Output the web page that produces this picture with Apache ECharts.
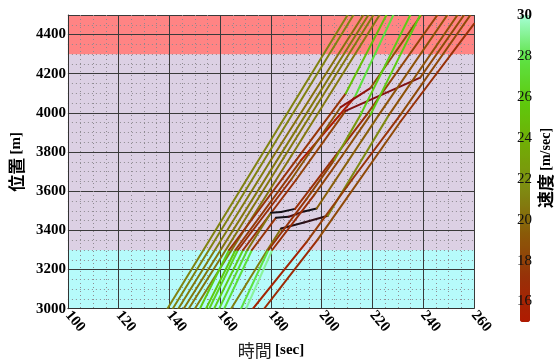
<!DOCTYPE html>
<html>
<head>
<meta charset="utf-8">
<script src="https://cdn.jsdelivr.net/npm/echarts@6/dist/echarts.min.js"></script>
<style>
  html, body { margin: 0; padding: 0; background: #fff; }
  #main { width: 554px; height: 364px; }
</style>
</head>
<body>
<div id="main"></div>
<script>
// vehicle trajectories, [time (sec), position (m)]
var veh01 = [[139.2, 3000], [210.2, 4500]];
var veh02 = [[141.3, 3000], [212.5, 4500]];
var veh03 = [[143.5, 3000], [180, 3760], [216.4, 4500]];
var veh04 = [[145.6, 3000], [182, 3750], [218.4, 4500]];
var veh05 = [[147.6, 3000], [185, 3770], [220.4, 4500]];
var veh06 = [[150.0, 3000], [164, 3290], [188, 3780], [222.8, 4500]];
var veh07 = [[152.0, 3000], [163.5, 3300], [190, 3760], [209.5, 4100], [225.5, 4500]];
var veh08 = [[154.4, 3000], [166, 3300], [192, 3760], [213, 4080], [228.2, 4500]];
var veh09 = [[155.7, 3000], [167, 3300], [188, 3660], [207.5, 4030], [219.2, 4127], [239.2, 4500]];
var veh10 = [[157.6, 3000], [169, 3300], [190, 3660], [209.4, 4010], [238.8, 4180], [256.1, 4500]];
var veh11 = [[159.6, 3000], [170.7, 3300], [180, 3490], [184, 3494], [189.5, 3510], [217.7, 3990], [245.6, 4500]];
var veh12 = [[161.6, 3000], [172.5, 3300], [182, 3465], [187, 3470], [193, 3497], [198, 3512], [222.5, 3990], [249.5, 4500]];
var veh13 = [[164.3, 3000], [178.6, 3300], [184, 3410], [193, 3440], [202.4, 3475], [226.5, 3990], [253.5, 4500]];
var veh14 = [[168.2, 3000], [179, 3300], [194, 3560], [205, 3760], [215.3, 3990], [234.9, 4500]];
var veh15 = [[170.2, 3000], [180.5, 3300], [197, 3580], [208, 3780], [219.2, 3990], [238.8, 4500]];
var veh16 = [[172.9, 3000], [194, 3340], [212, 3660], [231, 3990], [258.6, 4500]];
var veh17 = [[177.3, 3000], [198.4, 3353], [231, 3955], [260, 4455]];
var vehicles = [veh01, veh02, veh03, veh04, veh05, veh06, veh07, veh08, veh09,
  veh10, veh11, veh12, veh13, veh14, veh15, veh16, veh17];

// road sections shown as background bands (m)
var zoneBounds = [3000, 3300, 4300, 4500];
var speedTicks = [16, 18, 20, 22, 24, 26, 28, 30];

var speedColors = ['#b01a00', '#983008', '#8a5a08', '#7f8a12', '#72ab06', '#5ec90c', '#5ee244', '#a6ffd6'];
var zoneColors = ['#b6fbfb', '#dcd0e4', '#ff8484'];

function hex(c) {
  return [parseInt(c.substr(1, 2), 16), parseInt(c.substr(3, 2), 16), parseInt(c.substr(5, 2), 16)];
}
function mix(c1, c2, k) {
  k = Math.max(0, Math.min(1, k));
  var a = hex(c1), b = hex(c2);
  return 'rgb(' + a.map(function (v, i) { return Math.round(v + (b[i] - v) * k); }).join(',') + ')';
}
// below the colour bar: dark red, then black when nearly stopped
function slowColor(v) {
  if (v >= 6) return mix('#a01806', '#8a1010', (15 - v) / 9);
  return mix('#8a1010', '#141018', (6 - v) / 3);
}

var segs = [];
vehicles.forEach(function (veh) {
  for (var i = 0; i < veh.length - 1; i++) {
    var p = veh[i], q = veh[i + 1];
    segs.push([p[0], p[1], q[0], q[1], (q[1] - p[1]) / (q[0] - p[0])]);
  }
});

var serifBold = { fontFamily: 'Liberation Serif', fontWeight: 'bold', color: '#000' };
var minorLine = { show: true, lineStyle: { color: '#8e8a90', type: [1, 3], width: 1 } };

var myChart = echarts.init(document.getElementById('main'));
var option = {
  animation: false,
  grid: [
    { left: 66, right: 80, top: 15, bottom: 42 },
    { left: 520, width: 10, top: 15, height: 307 }
  ],
  xAxis: [{
    type: 'value', min: 100, max: 260, interval: 20, z: 3,
    name: '{a|時間} {b|[sec]}', nameLocation: 'middle', nameGap: 32,
    nameTextStyle: {
      rich: {
        a: { fontFamily: 'Noto Sans CJK JP', fontSize: 17, color: '#222' },
        b: { fontFamily: 'Liberation Serif', fontWeight: 'bold', fontSize: 15, color: '#000' }
      }
    },
    axisLine: { show: true, onZero: false, lineStyle: { color: '#333' } },
    axisTick: { show: false },
    axisLabel: Object.assign({ fontSize: 15, rotate: -50, margin: 4 }, serifBold),
    splitLine: { show: true, lineStyle: { color: '#3a3a3a', width: 1 } },
    minorTick: { show: true, splitNumber: 4, length: 0 },
    minorSplitLine: minorLine
  }, {
    gridIndex: 1, type: 'value', show: false
  }],
  yAxis: [{
    type: 'value', min: 3000, max: 4500, interval: 200, z: 3,
    name: '{a|位置} {b|[m]}', nameLocation: 'middle', nameGap: 37, nameRotate: 90,
    nameTextStyle: {
      rich: {
        a: { fontFamily: 'Noto Sans CJK JP', fontWeight: 'bold', fontSize: 17, color: '#000' },
        b: { fontFamily: 'Liberation Serif', fontWeight: 'bold', fontSize: 15, color: '#000' }
      }
    },
    axisLine: { show: true, lineStyle: { color: '#333' } },
    axisTick: { show: false },
    axisLabel: Object.assign({
      fontSize: 15, margin: 2, showMaxLabel: false,
      formatter: function (v) { return String(v); }
    }, serifBold),
    splitLine: { show: true, lineStyle: { color: '#3a3a3a', width: 1 } },
    minorTick: { show: true, splitNumber: 4, length: 0 },
    minorSplitLine: minorLine
  }, {
    gridIndex: 1, type: 'value', min: 15, max: 30, interval: 1, position: 'right', z: 10,
    axisLine: { show: false }, axisTick: { show: false }, splitLine: { show: false },
    axisLabel: {
      margin: -13, fontFamily: 'Liberation Serif', fontSize: 15, color: '#111',
      formatter: function (v) {
        if (speedTicks.indexOf(v) < 0) return '';
        return v === 30 ? '{b|30}' : String(v);
      },
      rich: { b: { fontFamily: 'Liberation Serif', fontWeight: 'bold', fontSize: 15, color: '#000' } }
    }
  }],
  visualMap: {
    type: 'continuous', min: 15, max: 30, dimension: 4, seriesIndex: 1,
    calculable: false, orient: 'vertical', left: 520, top: 15, padding: 0,
    itemWidth: 10, itemHeight: 307,
    inRange: { color: speedColors },
    outOfRange: { color: '#8a1010' }
  },
  graphic: [{
    type: 'text', x: 546, y: 168, rotation: Math.PI / 2,
    style: {
      text: '{a|速度} {b|[m/sec]}', align: 'center', verticalAlign: 'middle',
      rich: {
        a: { fontFamily: 'Noto Sans CJK JP', fontWeight: 'bold', fontSize: 17, fill: '#000' },
        b: { fontFamily: 'Liberation Serif', fontWeight: 'bold', fontSize: 14, fill: '#000' }
      }
    }
  }],
  series: [{
    type: 'line', data: [], silent: true, z: 1,
    markArea: {
      silent: true,
      data: zoneColors.map(function (c, i) {
        return [{ yAxis: zoneBounds[i], itemStyle: { color: c, opacity: 1 } }, { yAxis: zoneBounds[i + 1] }];
      })
    }
  }, {
    type: 'custom', clip: true, z: 4,
    encode: { x: [0, 2], y: [1, 3] },
    data: segs,
    renderItem: function (params, api) {
      var a = api.coord([api.value(0), api.value(1)]);
      var b = api.coord([api.value(2), api.value(3)]);
      var v = api.value(4);
      var c = v > 30 ? speedColors[speedColors.length - 1] : (v >= 15 ? api.visual('color') : slowColor(v));
      return {
        type: 'line',
        shape: { x1: a[0], y1: a[1], x2: b[0], y2: b[1] },
        style: { stroke: c, lineWidth: 2, lineCap: 'round' }
      };
    }
  }]
};
myChart.setOption(option);
</script>
</body>
</html>
